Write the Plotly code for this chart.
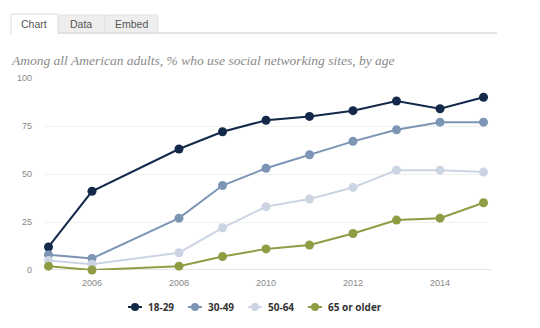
import plotly.graph_objects as go

years = [2005, 2006, 2008, 2009, 2010, 2011, 2012, 2013, 2014, 2015]
age_18_29 = [12, 41, 63, 72, 78, 80, 83, 88, 84, 90]
age_30_49 = [8, 6, 27, 44, 53, 60, 67, 73, 77, 77]
age_50_64 = [5, 3, 9, 22, 33, 37, 43, 52, 52, 51]
age_65_up = [2, 0, 2, 7, 11, 13, 19, 26, 27, 35]
series_names = ["18-29", "30-49", "50-64", "65 or older"]
colors = ["#14284a", "#7d95b5", "#ccd4e3", "#8f9c44"]
x_ticks = [2006, 2008, 2010, 2012, 2014]
y_ticks = [0, 25, 50, 75, 100]
title = "Among all American adults, % who use social networking sites, by age"

W, H = 540, 328
L, R, T, B = 45, 487, 78, 270

def px(x):
    return (x - L) / (R - L)

def py(y):
    return (B - y) / (B - T)

fig = go.Figure()
for name, vals, c in zip(series_names, [age_18_29, age_30_49, age_50_64, age_65_up], colors):
    fig.add_trace(go.Scatter(
        x=years, y=vals, name=name, mode="lines+markers",
        line=dict(color=c, width=2),
        marker=dict(color=c, size=9),
        cliponaxis=False, showlegend=False,
    ))

shapes = []
# tabs
shapes.append(dict(type="rect", xref="paper", yref="paper", x0=px(58), x1=px(105), y0=py(33), y1=py(15),
                   fillcolor="#eeeeee", line=dict(color="#e3e3e3", width=1), layer="below"))
shapes.append(dict(type="rect", xref="paper", yref="paper", x0=px(105), x1=px(158), y0=py(33), y1=py(15),
                   fillcolor="#eeeeee", line=dict(color="#e3e3e3", width=1), layer="below"))
shapes.append(dict(type="line", xref="paper", yref="paper", x0=px(10), x1=px(497), y0=py(33), y1=py(33),
                   line=dict(color="#dddddd", width=1.5)))
shapes.append(dict(type="rect", xref="paper", yref="paper", x0=px(11), x1=px(58), y0=py(33.5), y1=py(14),
                   fillcolor="white", line=dict(color="#dddddd", width=1), layer="above"))
shapes.append(dict(type="line", xref="paper", yref="paper", x0=px(11.5), x1=px(57.5), y0=py(33), y1=py(33),
                   line=dict(color="white", width=2)))
# zero line
shapes.append(dict(type="line", xref="paper", yref="y", x0=0, x1=1.01, y0=0, y1=0,
                   line=dict(color="#dddddd", width=1.5), layer="below"))

annotations = []
for txt, cx in [("Chart", 34), ("Data", 81), ("Embed", 131)]:
    annotations.append(dict(text=txt, xref="paper", yref="paper", x=px(cx), y=py(24),
                            showarrow=False, xanchor="center", yanchor="middle",
                            font=dict(family="Liberation Sans, Arial", size=10.5, color="#555555")))
annotations.append(dict(text="<i>" + title + "</i>", xref="paper", yref="paper", x=px(9), y=py(60),
                        showarrow=False, xanchor="left", yanchor="middle",
                        font=dict(family="Liberation Serif, Georgia, serif", size=13.5, color="#8a8a8a")))

# custom legend
LEG_Y = 307
for i, (name, c) in enumerate(zip(series_names, colors)):
    mx = 135 + 60 * i
    shapes.append(dict(type="line", xref="paper", yref="paper", x0=px(mx - 7), x1=px(mx + 7),
                       y0=py(LEG_Y), y1=py(LEG_Y), line=dict(color=c, width=2)))
    shapes.append(dict(type="circle", xref="paper", yref="paper", x0=px(mx - 4), x1=px(mx + 4),
                       y0=py(LEG_Y + 4), y1=py(LEG_Y - 4), fillcolor=c, line=dict(color=c, width=0)))
    annotations.append(dict(text="<b>" + name + "</b>", xref="paper", yref="paper", x=px(mx + 11), y=py(LEG_Y),
                            showarrow=False, xanchor="left", yanchor="middle",
                            font=dict(family="Open Sans, Liberation Sans", size=10, color="#333333")))

fig.update_layout(
    width=W, height=H,
    margin=dict(l=L, r=W - R, t=T, b=H - B, pad=0, autoexpand=False),
    paper_bgcolor="white", plot_bgcolor="white",
    showlegend=False,
    xaxis=dict(range=[2004.92, 2015.08], tickvals=x_ticks, showgrid=False, zeroline=False,
               showline=False, ticks="", tickfont=dict(family="Liberation Sans, Arial", size=9, color="#888888"),
               ticklabelstandoff=6),
    yaxis=dict(range=[0, 100], tickvals=y_ticks, showgrid=True, gridcolor="#f0f0f0", gridwidth=1,
               zeroline=False, showline=False, ticks="",
               tickfont=dict(family="Liberation Sans, Arial", size=9, color="#888888"),
               ticklabelstandoff=12),
    shapes=shapes, annotations=annotations,
)
fig.write_html("out.html")
